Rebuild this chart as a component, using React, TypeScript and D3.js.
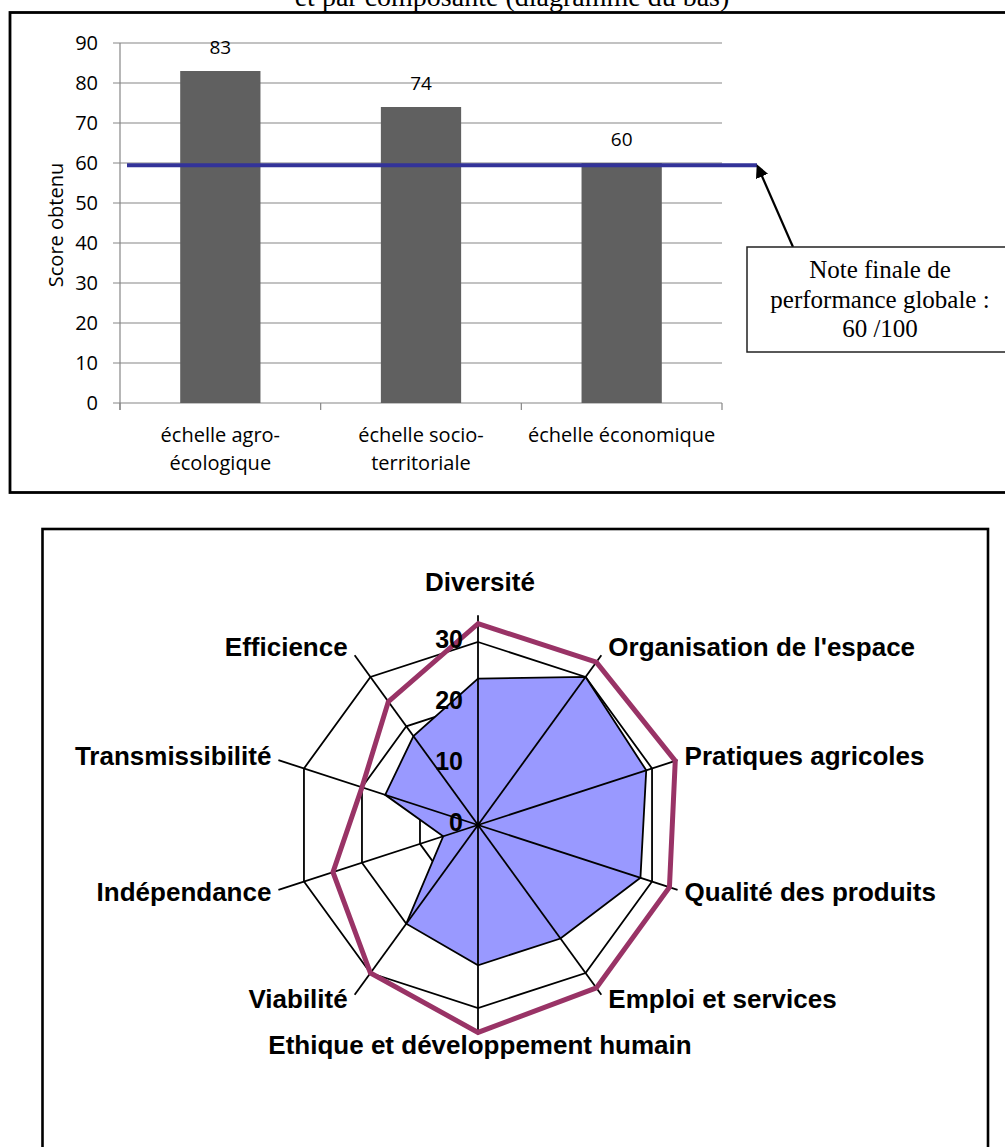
import React from "react";
import * as d3 from "d3";

// top chart: score per scale
const scaleLabels = [["échelle agro-", "écologique"], ["échelle socio-", "territoriale"], ["échelle économique"]];
const scaleScores = [83, 74, 60];
const yTicks = [0, 10, 20, 30, 40, 50, 60, 70, 80, 90];
const finalScore = 60;

// bottom chart: score per component
const components = [
  "Diversité",
  "Organisation de l'espace",
  "Pratiques agricoles",
  "Qualité des produits",
  "Emploi et services",
  "Ethique et développement humain",
  "Viabilité",
  "Indépendance",
  "Transmissibilité",
  "Efficience",
];
const obtained = [24, 30, 29, 28, 23, 23, 20, 6, 16, 18];
const maxima = [33, 33, 34, 33, 33, 34, 30, 25, 20, 25];
const radarTicks = [0, 10, 20, 30];

const calibri = "'Open Sans', sans-serif";
const serif = "'Liberation Serif', 'Times New Roman', serif";
const arial = "'Liberation Sans', Arial, sans-serif";

function BarPanel() {
  const x = d3.scaleBand<number>().domain([0, 1, 2]).range([120, 722]).paddingInner(0.6).paddingOuter(0.3);
  const y = d3.scaleLinear().domain([0, 90]).range([403, 43]);
  const xTicks = [0, 1, 2, 3].map((i) => 120 + i * ((722 - 120) / 3));
  const lineY = y(finalScore) + 2.3;

  return (
    <g>
      {/* grid */}
      {yTicks.map((t) => (
        <line key={t} x1={113} x2={722} y1={y(t)} y2={y(t)} stroke="#868686" strokeWidth={1.2} />
      ))}
      <line x1={120} x2={120} y1={y(90)} y2={y(0) + 7} stroke="#868686" strokeWidth={1.2} />
      {xTicks.map((t, i) => (
        <line key={i} x1={t} x2={t} y1={y(0)} y2={y(0) + 7} stroke="#868686" strokeWidth={1.2} />
      ))}
      {yTicks.map((t) => (
        <text key={t} x={98} y={y(t)} dy="0.35em" textAnchor="end" fontFamily={calibri} fontSize={20} fill="#000">
          {t}
        </text>
      ))}
      <text
        transform={`translate(56,${(y(0) + y(90)) / 2 + 2}) rotate(-90)`}
        textAnchor="middle"
        dy="0.35em"
        fontFamily={calibri}
        fontSize={20}
      >
        Score obtenu
      </text>

      {/* bars */}
      {scaleScores.map((v, i) => (
        <g key={i}>
          <rect x={x(i)} y={y(v)} width={x.bandwidth()} height={y(0) - y(v)} fill="#606060" />
          <text x={x(i)! + x.bandwidth() / 2} y={y(v) - 24} dy="0.35em" textAnchor="middle" fontFamily={calibri} fontSize={19}>
            {v}
          </text>
          {scaleLabels[i].map((l, j) => (
            <text
              key={j}
              x={x(i)! + x.bandwidth() / 2}
              y={435 + j * 28}
              dy="0.35em"
              textAnchor="middle"
              fontFamily={calibri}
              fontSize={20}
            >
              {l}
            </text>
          ))}
        </g>
      ))}

      {/* final score line */}
      <line x1={127} x2={757} y1={lineY} y2={lineY} stroke="#333399" strokeWidth={4} />

      {/* annotation */}
      <line x1={793} y1={247} x2={761} y2={174} stroke="#000" strokeWidth={2.2} markerEnd="url(#arrow)" />
      <rect x={747} y={247} width={270} height={105} fill="#fff" stroke="#222" strokeWidth={1.5} />
      {["Note finale de", "performance globale :", "60 /100"].map((l, i) => (
        <text key={i} x={880} y={278 + i * 29.5} textAnchor="middle" fontFamily={serif} fontSize={25}>
          {l}
        </text>
      ))}
    </g>
  );
}

function RadarPanel() {
  const cx = 478;
  const cy = 825;
  const n = components.length;
  const r = d3.scaleLinear().domain([0, 30]).range([0, 183]);
  const angle = (i: number) => (i * 2 * Math.PI) / n;
  const spokeMax = 34.4;

  const radial = d3
    .lineRadial<number>()
    .angle((_, i) => angle(i))
    .radius((d) => r(d))
    .curve(d3.curveLinearClosed);

  const pt = (i: number, v: number) => [Math.sin(angle(i)) * r(v), -Math.cos(angle(i)) * r(v)];

  return (
    <g transform={`translate(${cx},${cy})`}>
      {/* rings sit under the filled series, spokes over it */}
      {radarTicks
        .filter((t) => t > 0)
        .map((t) => (
          <path key={t} d={radial(components.map(() => t)) || ""} fill="none" stroke="#000" strokeWidth={1.8} />
        ))}
      <path d={radial(obtained) || ""} fill="#9999FF" stroke="#000" strokeWidth={1.8} />
      {components.map((c, i) => {
        const [ex, ey] = pt(i, spokeMax);
        return <line key={c} x1={0} y1={0} x2={ex} y2={ey} stroke="#000" strokeWidth={1.8} />;
      })}
      <path d={radial(maxima) || ""} fill="none" stroke="#993366" strokeWidth={5} strokeLinejoin="miter" />

      {radarTicks.map((t) => (
        <text
          key={t}
          x={-15}
          y={-r(t) - 3}
          dy="0.35em"
          textAnchor="end"
          fontFamily={arial}
          fontWeight="bold"
          fontSize={25}
        >
          {t}
        </text>
      ))}

      {components.map((c, i) => {
        const [ex, ey] = pt(i, spokeMax);
        const s = Math.sin(angle(i));
        const anchor = Math.abs(s) < 0.1 ? "middle" : s > 0 ? "start" : "end";
        const dx = Math.abs(s) < 0.1 ? 2 : s > 0 ? 7 : -7;
        const dyMap = [-33, -8, -4, 2, 4, 10, 4, 2, -4, -8];
        return (
          <text
            key={c}
            x={ex + dx}
            y={ey + dyMap[i]}
            dy="0.35em"
            textAnchor={anchor}
            fontFamily={arial}
            fontWeight="bold"
            fontSize={26}
          >
            {c}
          </text>
        );
      })}
    </g>
  );
}

export default function App() {
  return (
    <div style={{ position: "absolute", left: 0, top: 0 }}>
      <svg width={1005} height={1147} style={{ display: "block", background: "#fff" }}>
        <defs>
          <marker id="arrow" viewBox="0 0 10 10" refX="2" refY="5" markerWidth="6" markerHeight="6" orient="auto">
            <path d="M0,0 L10,5 L0,10 z" fill="#000" />
          </marker>
        </defs>
        <rect width={1005} height={1147} fill="#fff" />
        <text x={512} y={6} textAnchor="middle" fontFamily={serif} fontSize={28}>
          et par composante (diagramme du bas)
        </text>
        <rect x={10} y={12.5} width={1010} height={480} fill="none" stroke="#000" strokeWidth={2.8} />
        <BarPanel />
        <rect x={42.5} y={529} width={945.5} height={700} fill="none" stroke="#000" strokeWidth={2.6} />
        <RadarPanel />
      </svg>
    </div>
  );
}
